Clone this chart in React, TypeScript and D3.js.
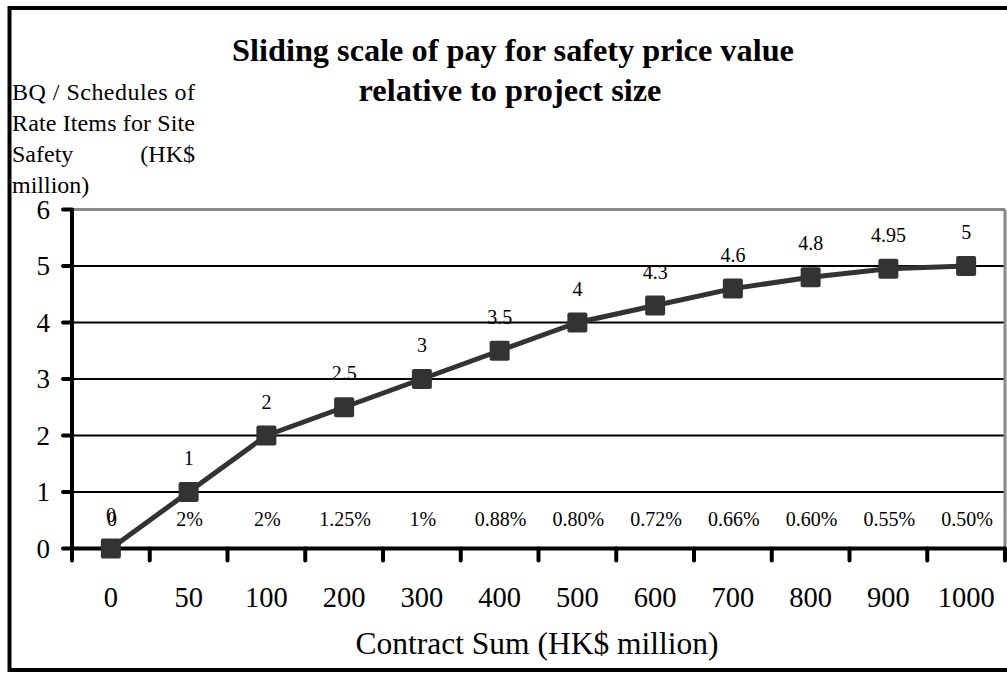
import React from "react";
import * as d3 from "d3";

const categories = ["0", "50", "100", "200", "300", "400", "500", "600", "700", "800", "900", "1000"];
const values = [0, 1, 2, 2.5, 3, 3.5, 4, 4.3, 4.6, 4.8, 4.95, 5];
const valueLabels = ["0", "1", "2", "2.5", "3", "3.5", "4", "4.3", "4.6", "4.8", "4.95", "5"];
const percentLabels = ["0", "2%", "2%", "1.25%", "1%", "0.88%", "0.80%", "0.72%", "0.66%", "0.60%", "0.55%", "0.50%"];
const yTicks = [0, 1, 2, 3, 4, 5, 6];

const FONT = "'Liberation Serif', 'Times New Roman', serif";

export default function App() {
  const W = 1007, H = 673;
  const left = 72, right = 1005, top = 209.5, bottom = 548.5;
  const x = d3.scaleBand<string>().domain(categories).range([left, right]);
  const y = d3.scaleLinear().domain([0, 6]).range([bottom, top]);
  const cx = (c: string) => (x(c) as number) + x.bandwidth() / 2;
  const line = d3.line<number>().x((_, i) => cx(categories[i])).y((v) => y(v));
  const edges = categories.map((c) => (x(c) as number) + x.bandwidth());

  return (
    <svg width={W} height={H} style={{ position: "absolute", left: 0, top: 0, background: "#fff" }} fontFamily={FONT}>
      <rect x={0} y={0} width={W} height={H} fill="#fff" />
      {/* outer frame */}
      <rect x={9.5} y={8} width={1010} height={662} fill="none" stroke="#000" strokeWidth={4} />

      {/* title */}
      <text x={513} y={61} textAnchor="middle" fontSize={32.3} fontWeight="bold">Sliding scale of pay for safety price value</text>
      <text x={510} y={101} textAnchor="middle" fontSize={32.3} fontWeight="bold">relative to project size</text>

      {/* y axis title */}
      <g fontSize={24}>
        <text x={12} y={100} textLength={183} lengthAdjust="spacing">BQ / Schedules of</text>
        <text x={12} y={131} textLength={183} lengthAdjust="spacing">Rate Items for Site</text>
        <text x={12} y={162}>Safety</text>
        <text x={195} y={162} textAnchor="end">(HK$</text>
        <text x={12} y={193}>million)</text>
      </g>

      {/* gridlines */}
      {yTicks.filter((t) => t > 0 && t < 6).map((t) => (
        <line key={t} x1={left} x2={right} y1={y(t)} y2={y(t)} stroke="#000" strokeWidth={2} />
      ))}
      {/* plot border top/right */}
      <line x1={left} x2={right} y1={top} y2={top} stroke="#888" strokeWidth={3} />
      <line x1={right} x2={right} y1={top} y2={bottom} stroke="#888" strokeWidth={3} />

      {/* y axis */}
      <line x1={left} x2={left} y1={top} y2={bottom} stroke="#000" strokeWidth={4} />
      {yTicks.map((t) => (
        <g key={t}>
          <line x1={63} x2={left} y1={y(t)} y2={y(t)} stroke="#000" strokeWidth={4} strokeLinecap="round" />
          <text x={50} y={y(t)} dy="0.35em" textAnchor="end" fontSize={27}>{t}</text>
        </g>
      ))}

      {/* x axis */}
      <line x1={left} x2={right} y1={bottom} y2={bottom} stroke="#000" strokeWidth={4} />
      {[left, ...edges].map((e, i) => (
        <line key={i} x1={e} x2={e} y1={bottom} y2={bottom + 12} stroke="#000" strokeWidth={4} strokeLinecap="round" />
      ))}
      {categories.map((c) => (
        <text key={c} x={cx(c)} y={607} textAnchor="middle" fontSize={28.5}>{c}</text>
      ))}
      <text x={537} y={654} textAnchor="middle" fontSize={31.5}>Contract Sum (HK$ million)</text>

      {/* percent labels */}
      {categories.map((c, i) => (
        <text key={c} x={cx(c) + 1} y={525.5} textAnchor="middle" fontSize={20}>{percentLabels[i]}</text>
      ))}

      {/* series */}
      <path d={line(values) || ""} fill="none" stroke="#333" strokeWidth={5} strokeLinejoin="round" />
      {values.map((v, i) => (
        <rect key={i} x={cx(categories[i]) - 10} y={y(v) - 10} width={20} height={20} rx={2} fill="#333" />
      ))}
      {values.map((v, i) => (
        <text key={i} x={cx(categories[i])} y={y(v) - 34} dy="0.35em" textAnchor="middle" fontSize={20}>{valueLabels[i]}</text>
      ))}
    </svg>
  );
}
